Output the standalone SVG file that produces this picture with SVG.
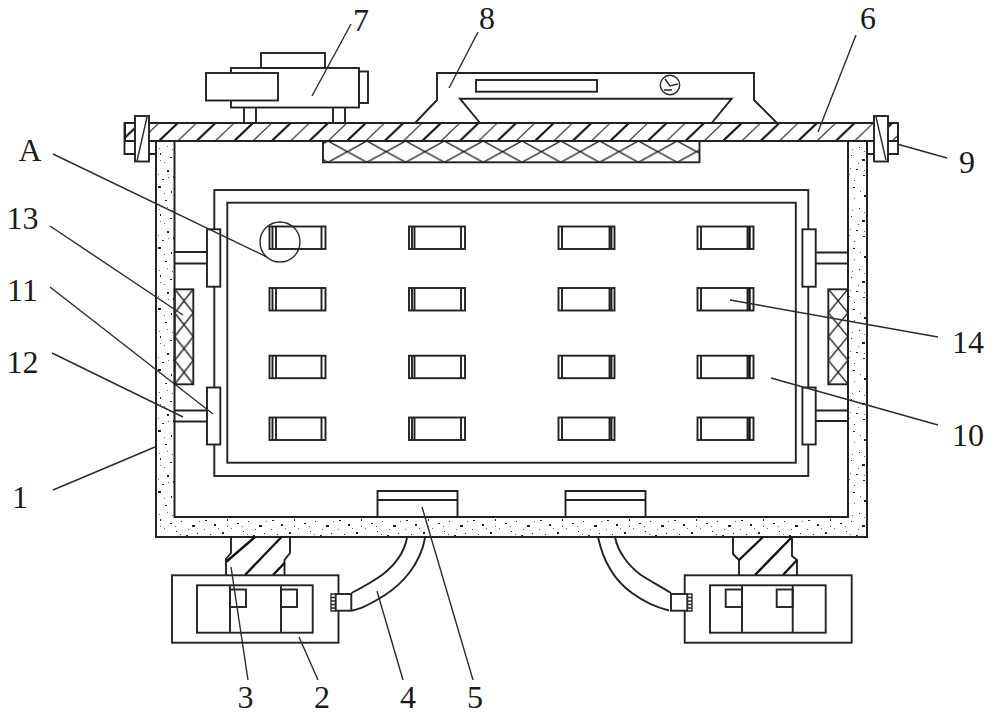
<svg xmlns="http://www.w3.org/2000/svg" width="1000" height="714" viewBox="0 0 1000 714">
<style>
.l{fill:none;stroke:#222;stroke-width:1.9}
.w{fill:#fff;stroke:#222;stroke-width:1.9}
.t{fill:none;stroke:#2b2b2b;stroke-width:1.4}
.k{fill:none;stroke:#111;stroke-width:2.4}
.lead{fill:none;stroke:#2b2b2b;stroke-width:1.4}
text{font-family:"Liberation Serif","Times New Roman",serif;font-size:32px;fill:#1a1a1a;text-anchor:middle}
</style>
<defs>
<pattern id="hatch" patternUnits="userSpaceOnUse" x="159" y="123" width="37.6" height="18">
<path d="M0,18L18.8,0" stroke="#111" stroke-width="2.1" fill="none"/>
<path d="M18.8,18L37.6,0" stroke="#333" stroke-width="1.2" fill="none"/>
</pattern>
<pattern id="meshH" patternUnits="userSpaceOnUse" x="328" y="141" width="38.8" height="21.3">
<path d="M0,0L38.8,21.3M0,21.3L38.8,0" stroke="#1f1f1f" stroke-width="1.4" fill="none"/>
</pattern>
<pattern id="meshV" patternUnits="userSpaceOnUse" x="174.7" y="289" width="18.6" height="23.8">
<path d="M0,0L18.6,23.8M0,23.8L18.6,0" stroke="#1f1f1f" stroke-width="1.4" fill="none"/>
</pattern>
<pattern id="meshR" patternUnits="userSpaceOnUse" x="828.3" y="289" width="19.7" height="23.8">
<path d="M0,0L19.7,23.8M0,23.8L19.7,0" stroke="#1f1f1f" stroke-width="1.4" fill="none"/>
</pattern>
<pattern id="stip" patternUnits="userSpaceOnUse" x="0" y="0" width="67" height="61">
<path d="M3,5h2v2h-2zM14,11h1v1h-1zM24,3h3v2h-3zM37,8h1v2h-1zM49,4h2v1h-2zM60,12h2v2h-2zM8,19h1v1h-1zM19,23h2v2h-2zM31,17h2v1h-2zM43,21h2v2h-2zM55,25h1v1h-1zM64,20h2v2h-2zM4,32h2v1h-2zM13,36h2v2h-2zM26,31h1v2h-1zM36,35h2v1h-2zM47,33h1v1h-1zM58,37h3v2h-3zM9,46h1v1h-1zM21,44h2v2h-2zM33,48h2v2h-2zM42,43h1v1h-1zM52,47h2v1h-2zM63,45h1v1h-1zM2,56h2v2h-2zM16,55h1v1h-1zM28,57h2v1h-2zM39,54h2v2h-2zM50,58h1v1h-1zM59,53h2v1h-2z" fill="#222"/>
<path d="M10,8h1v1h-1zM30,10h1v1h-1zM44,13h1v1h-1zM6,26h1v1h-1zM38,27h1v1h-1zM50,15h1v1h-1zM17,40h1v1h-1zM30,40h1v1h-1zM54,41h1v1h-1zM24,52h1v1h-1zM45,52h1v1h-1zM65,33h1v1h-1zM19,6h1v1h-1zM56,8h1v1h-1zM12,24h1v1h-1zM25,26h1v1h-1zM48,27h1v1h-1zM60,29h1v1h-1zM3,41h1v1h-1zM41,38h1v1h-1zM26,38h1v1h-1zM60,48h1v1h-1zM10,52h1v1h-1zM34,55h1v1h-1zM46,46h1v1h-1zM33,24h1v1h-1z" fill="#666"/>
</pattern>
<g id="c1"><rect class="w" x="269.5" y="0" width="56" height="22.5"/><path class="l" d="M272.5,0V22.5M276,0V22.5M321.5,0V22.5"/></g>
<g id="c2"><rect class="w" x="409" y="0" width="56" height="22.5"/><path class="l" d="M412,0V22.5M414.5,0V22.5M461,0V22.5"/></g>
<g id="c3"><rect class="w" x="558.5" y="0" width="56" height="22.5"/><path class="l" d="M562,0V22.5M609.5,0V22.5M611.5,0V22.5"/></g>
<g id="c4"><rect class="w" x="697.5" y="0" width="56" height="22.5"/><path class="l" d="M701,0V22.5M747.5,0V22.5"/><path class="k" d="M749.5,0V22.5"/></g>
</defs>
<rect width="1000" height="714" fill="#fff"/>

<g id="n1-shell">
<path d="M156,141H174.5V517H848V141H867V537H156Z" fill="url(#stip)" stroke="#222" stroke-width="2"/>
<path class="l" d="M148,154H156M867,154H874"/>
</g>

<g id="n6-plate">
<rect x="125" y="123" width="773" height="18" fill="url(#hatch)" stroke="#222" stroke-width="2"/>
</g>

<g id="n9-bolts">
<path class="l" d="M135,123H124.5V154H135"/>
<path class="l" d="M124.5,141H135"/>
<rect class="w" x="135" y="116" width="14" height="45.5"/>
<path class="t" d="M137,161L147,117"/>
<path class="l" d="M888,123H898V154H888M888,141H898"/>
<rect class="w" x="874" y="116" width="14" height="45.5"/>
<path class="t" d="M876,117L886,160"/>
</g>

<g id="n7-motor">
<rect class="l" x="261" y="53" width="64" height="15"/>
<rect class="w" x="231" y="68" width="128" height="39.5"/>
<rect class="w" x="206" y="73" width="72" height="27.5"/>
<rect class="l" x="359" y="71.5" width="9" height="31.5"/>
<path class="l" d="M244,107.5V123M256,107.5V123M333,107.5V123M345,107.5V123"/>
</g>

<g id="n8-housing">
<path class="l" d="M415,123L437,100V73H754V100L777,123"/>
<path class="l" d="M480,123L460,98.7H731.7L711.7,123"/>
<rect class="l" x="476" y="80" width="121" height="11.7"/>
<circle class="t" cx="670" cy="85" r="9.7"/>
<path class="t" d="M665,79L670,86L678,84M664,90H672"/>
</g>

<g id="mesh-top">
<rect x="323" y="141" width="376.5" height="21.3" fill="url(#meshH)" stroke="#222" stroke-width="1.9"/>
</g>

<g id="n10-frame">
<rect class="l" x="214.3" y="190" width="594" height="286"/>
<rect class="l" x="227.3" y="202.7" width="568.5" height="260"/>
</g>

<g id="n12-rods">
<path class="l" d="M174.5,252H207M174.5,263.5H207M174.5,410.5H207M174.5,421.5H207M816,252.5H848M816,263.5H848M816,410.5H848M816,421H848"/>
</g>

<g id="n11-clamps">
<rect class="w" x="207" y="229.3" width="13.3" height="57.4"/>
<rect class="w" x="207" y="387.5" width="13.3" height="57"/>
<rect class="w" x="802.4" y="229.3" width="13.3" height="57.4"/>
<rect class="w" x="802.4" y="387.5" width="13.3" height="57"/>
</g>

<g id="n13-mesh">
<rect x="174.7" y="289.3" width="18.6" height="95" fill="url(#meshV)" stroke="#222" stroke-width="1.9"/>
<rect x="828.3" y="289.3" width="19.7" height="95" fill="url(#meshR)" stroke="#222" stroke-width="1.9"/>
</g>

<g id="n14-slots">
<use href="#c1" y="226.5"/><use href="#c2" y="226.5"/><use href="#c3" y="226.5"/><use href="#c4" y="226.5"/>
<use href="#c1" y="288"/><use href="#c2" y="288"/><use href="#c3" y="288"/><use href="#c4" y="288"/>
<use href="#c1" y="355.7"/><use href="#c2" y="355.7"/><use href="#c3" y="355.7"/><use href="#c4" y="355.7"/>
<use href="#c1" y="417.5"/><use href="#c2" y="417.5"/><use href="#c3" y="417.5"/><use href="#c4" y="417.5"/>
</g>

<g id="detail-A">
<circle class="t" cx="280" cy="242" r="20"/>
</g>

<g id="n5-seats">
<path class="l" d="M377.5,517V491H457.5V517M377.5,500H457.5"/>
<path class="l" d="M565.5,517V491H645.5V517M565.5,500H645.5"/>
</g>

<g id="n3-foot-left">
<path class="l" d="M231,537V553L226,559V575M290,537V553L284.5,560V575"/>
<path class="k" d="M255,537L226,562M281.5,537L245,575M284.5,563L273,575"/>
</g>
<g id="n3-foot-right">
<path class="l" d="M733,537V554L739,560V575M792,537V556L797,560V575"/>
<path class="k" d="M763,537L739,560M792,537L755,575M797,560L783,575"/>
</g>

<g id="n2-box-left">
<rect class="l" x="172" y="575.3" width="166.5" height="67.4"/>
<rect class="l" x="197" y="585.3" width="115.7" height="47.4"/>
<path class="l" d="M230,585.3V632.7M281,585.3V632.7"/>
<rect class="l" x="230" y="589.5" width="16" height="17.5"/>
<rect class="l" x="281" y="589.5" width="16" height="17.5"/>
</g>
<g id="n2-box-right">
<rect class="l" x="684.7" y="575.3" width="167" height="67.4"/>
<rect class="l" x="710" y="585.3" width="115.7" height="47.4"/>
<path class="l" d="M742,585.3V632.7M792.7,585.3V632.7"/>
<rect class="l" x="725.7" y="589.5" width="16.3" height="17.5"/>
<rect class="l" x="776.7" y="589.5" width="16" height="17.5"/>
</g>

<g id="n4-hose-left">
<path class="l" d="M351.5,593C365,586 375,580 382,575C395,565 404,553 407,538"/>
<path class="l" d="M352,610.5C362,609 374,602 385,595C402,584 420,565 425,538"/>
<rect class="w" x="335.7" y="594" width="15.6" height="16.7"/>
<path class="t" d="M336,594H331V611H336M331,597.5H336M331,601H336M331,604.5H336M331,608H336"/>
</g>
<g id="n4-hose-right">
<path class="l" d="M671,593C660,586 650,581 641,575C630,567 618,553 615,537"/>
<path class="l" d="M669,610.5C655,607 643,601 632,593C618,583 604,565 598,537"/>
<rect class="w" x="671" y="594" width="16.3" height="16.7"/>
<path class="t" d="M687,594H692V611H687M687,597.5H692M687,601H692M687,604.5H692M687,608H692"/>
</g>

<g id="connectors">
<path class="lead" d="M351,24L312,96"/>
<path class="lead" d="M478,32L449,88"/>
<path class="lead" d="M856,35L818,132"/>
<path class="lead" d="M897,144L947,158"/>
<path class="lead" d="M53,154L267,257"/>
<path class="lead" d="M50,226L183,315"/>
<path class="lead" d="M50,287L213,414"/>
<path class="lead" d="M52,353L183,417"/>
<path class="lead" d="M53,490L155,447"/>
<path class="lead" d="M231,567L248,680"/>
<path class="lead" d="M299,637L318,680"/>
<path class="lead" d="M377,591L403,680"/>
<path class="lead" d="M422,507L473,680"/>
<path class="lead" d="M730,300L938,337"/>
<path class="lead" d="M771,378L938,425"/>
</g>

<g id="labels">
<text x="361" y="31">7</text>
<text x="487" y="29">8</text>
<text x="868" y="29">6</text>
<text x="967" y="173">9</text>
<text x="30" y="161">A</text>
<text x="22.5" y="229">13</text>
<text x="22.5" y="301">11</text>
<text x="22.5" y="373">12</text>
<text x="20" y="508">1</text>
<text x="245.5" y="708">3</text>
<text x="322" y="708">2</text>
<text x="408" y="708">4</text>
<text x="475" y="708">5</text>
<text x="968" y="353">14</text>
<text x="968" y="446">10</text>
</g>
</svg>
